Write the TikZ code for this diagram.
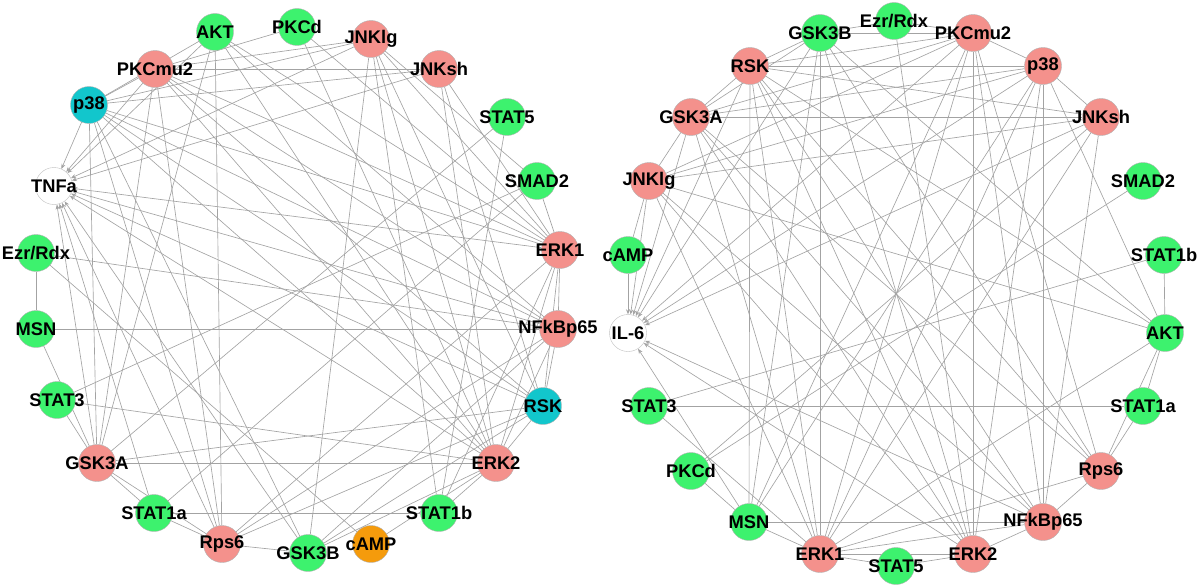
\documentclass[tikz,border=0pt]{standalone}
\usepackage{fontspec}
\setmainfont{Liberation Sans}
\usepackage{mathtools}
\usetikzlibrary{arrows.meta,backgrounds}
\definecolor{upgreen}{HTML}{3DF26E}
\definecolor{hitred}{HTML}{F4918C}
\definecolor{cyanhit}{HTML}{12C6CC}
\definecolor{camporange}{HTML}{F59B0C}
\begin{document}
\begin{tikzpicture}[x=1pt,y=-1pt,
    prot/.style={draw=black!30,circle,minimum size=37pt,inner sep=0pt,
      font=\fontsize{18.3}{20}\selectfont\bfseries},
    gr/.style={prot,fill=upgreen},
    rd/.style={prot,fill=hitred},
    cy/.style={prot,fill=cyanhit},
    og/.style={prot,fill=camporange},
    wt/.style={prot,fill=white,draw=black!25},
    link/.style={draw=black!36,line width=0.65pt},
    into/.style={link,-{Stealth[length=5pt,width=4pt]}}]
\useasboundingbox (0,0) rectangle (1200,586);

% TNFa network
\foreach \n/\x/\y/\s/\t in {lAKT/215/32/gr/AKT, lPKCd/297/27/gr/PKCd, lJNKlg/371/39/rd/JNKlg,
    lJNKsh/439/69/rd/JNKsh, lSTAT5/507/117/gr/STAT5, lSMAD2/537/181/gr/SMAD2,
    lERK1/560/250/rd/ERK1, lNFkB/558/329/rd/NFkBp65, lRSK/543/406/cy/RSK,
    lERK2/496/463/rd/ERK2, lSTAT1b/439/513/gr/STAT1b, lcAMP/371/544/og/cAMP,
    lGSK3B/308/553/gr/GSK3B, lRps6/222/544/rd/Rps6, lSTAT1a/154/513/gr/STAT1a,
    lGSK3A/97/463/rd/GSK3A, lSTAT3/57/400/gr/STAT3, lMSN/36/329/gr/MSN,
    lEzr/36/253/gr/{Ezr/Rdx}, lTNFa/54/186/wt/TNFa, lp38/89/105/cy/p38,
    lPKCmu2/155/69/rd/PKCmu2}
  \node[\s] (\n) at (\x,\y) {\clap{\t}};

% IL-6 network
\foreach \n/\x/\y/\s/\t in {rGSK3B/820/33/gr/GSK3B, rEzr/894/21/gr/{Ezr/Rdx}, rPKCmu2/973/33/rd/PKCmu2,
    rp38/1043/66/rd/p38, rJNKsh/1101/117/rd/JNKsh, rSMAD2/1143/181/gr/SMAD2,
    rSTAT1b/1164/255/gr/STAT1b, rAKT/1165/333/gr/AKT, rSTAT1a/1143/406/gr/STAT1a,
    rRps6/1101/471/rd/Rps6, rNFkB/1043/522/rd/NFkBp65, rERK2/973/554/rd/ERK2,
    rSTAT5/896/566/gr/STAT5, rERK1/820/554/rd/ERK1, rMSN/749/522/gr/MSN,
    rPKCd/691/471/gr/PKCd, rSTAT3/649/406/gr/STAT3, rIL6/628/333/wt/IL-6,
    rcAMP/628/255/gr/cAMP, rJNKlg/649/181/rd/JNKlg, rGSK3A/691/117/rd/GSK3A,
    rRSK/750/66/rd/RSK}
  \node[\s] (\n) at (\x,\y) {\clap{\t}};

\begin{scope}[on background layer]
% arrows into TNFa
\foreach \a in {lp38,lPKCmu2,lAKT,lJNKlg,lJNKsh,lERK1,lNFkB,lRSK,lGSK3A,lRps6,lSTAT1a,lERK2,lGSK3B}
  \draw[into] (\a) -- (lTNFa);
\foreach \a/\b in {lEzr/lMSN, lMSN/lNFkB, lEzr/lNFkB, lMSN/lGSK3A, lSTAT3/lGSK3A, lSTAT3/lSMAD2,
    lSTAT3/lERK2, lGSK3A/lSTAT1a, lGSK3A/lRps6, lGSK3A/lERK2, lGSK3A/lRSK, lGSK3A/lp38,
    lGSK3A/lPKCmu2, lGSK3A/lAKT, lGSK3A/lSTAT5, lSTAT1a/lRps6, lSTAT1a/lSTAT1b, lSTAT1a/lSMAD2,
    lSTAT5/lSTAT1b, lRps6/lGSK3B, lRps6/lPKCmu2, lRps6/lAKT, lRps6/lERK1, lRps6/lNFkB,
    lRps6/lRSK, lRps6/lp38, lGSK3B/lERK2, lGSK3B/lRSK, lGSK3B/lNFkB, lGSK3B/lJNKlg,
    lGSK3B/lp38, lcAMP/lERK2, lcAMP/lEzr, lSTAT1b/lERK1, lSTAT1b/lERK2, lERK2/lRSK,
    lERK2/lNFkB, lERK2/lERK1, lERK2/lp38, lERK2/lPKCmu2, lERK2/lAKT, lERK2/lJNKlg,
    lERK2/lJNKsh, lRSK/lNFkB, lRSK/lERK1, lRSK/lp38, lRSK/lPKCmu2, lRSK/lJNKsh,
    lRSK/lJNKlg, lNFkB/lERK1, lNFkB/lp38, lNFkB/lPKCmu2, lNFkB/lAKT, lERK1/lSMAD2,
    lERK1/lp38, lERK1/lPKCmu2, lERK1/lAKT, lERK1/lJNKlg, lERK1/lJNKsh, lERK1/lPKCd,
    lJNKsh/lPKCmu2, lJNKsh/lp38, lJNKlg/lSMAD2, lJNKlg/lPKCmu2, lJNKlg/lp38,
    lJNKlg/lSTAT1b, lPKCd/lPKCmu2, lPKCd/lERK2, lAKT/lp38, lPKCmu2/lp38}
  \draw[link] (\a) -- (\b);

% arrows into IL-6
\foreach \a in {rcAMP,rJNKlg,rGSK3A,rRSK,rGSK3B,rPKCmu2,rp38,rJNKsh,rNFkB,rERK2,rMSN}
  \draw[into] (\a) -- (rIL6);
\foreach \a/\b in {rSTAT3/rSTAT1a, rSTAT3/rSTAT1b, rSTAT3/rERK1, rPKCd/rSMAD2, rPKCd/rJNKsh,
    rPKCd/rMSN, rMSN/rNFkB, rMSN/rERK1, rMSN/rRSK, rMSN/rGSK3B, rMSN/rp38, rMSN/rPKCmu2,
    rERK1/rGSK3B, rERK1/rERK2, rERK1/rSTAT5, rERK1/rRSK, rERK1/rGSK3A, rERK1/rJNKlg,
    rERK1/rp38, rERK1/rPKCmu2, rERK1/rJNKsh, rERK1/rAKT, rERK1/rRps6, rERK1/rNFkB,
    rERK2/rPKCmu2, rERK2/rSTAT5, rERK2/rNFkB, rERK2/rRSK, rERK2/rGSK3A, rERK2/rJNKlg,
    rERK2/rp38, rERK2/rGSK3B, rERK2/rEzr, rNFkB/rp38, rNFkB/rRps6, rNFkB/rRSK,
    rNFkB/rGSK3A, rNFkB/rJNKlg, rNFkB/rPKCmu2, rNFkB/rJNKsh, rRps6/rRSK, rRps6/rGSK3A,
    rRps6/rGSK3B, rRps6/rPKCmu2, rRps6/rSTAT1a, rRps6/rAKT, rAKT/rSTAT1b, rAKT/rSTAT1a,
    rAKT/rRSK, rAKT/rGSK3B, rAKT/rp38, rAKT/rJNKlg, rJNKsh/rp38, rJNKsh/rRSK,
    rJNKsh/rGSK3A, rJNKsh/rJNKlg, rp38/rPKCmu2, rp38/rRSK, rp38/rGSK3A, rp38/rJNKlg,
    rPKCmu2/rEzr, rPKCmu2/rGSK3B, rPKCmu2/rRSK, rPKCmu2/rGSK3A, rPKCmu2/rJNKlg,
    rEzr/rGSK3B, rGSK3B/rRSK, rGSK3B/rGSK3A, rRSK/rGSK3A, rGSK3A/rJNKlg, rJNKlg/rcAMP}
  \draw[link] (\a) -- (\b);
\end{scope}
\end{tikzpicture}
\end{document}
